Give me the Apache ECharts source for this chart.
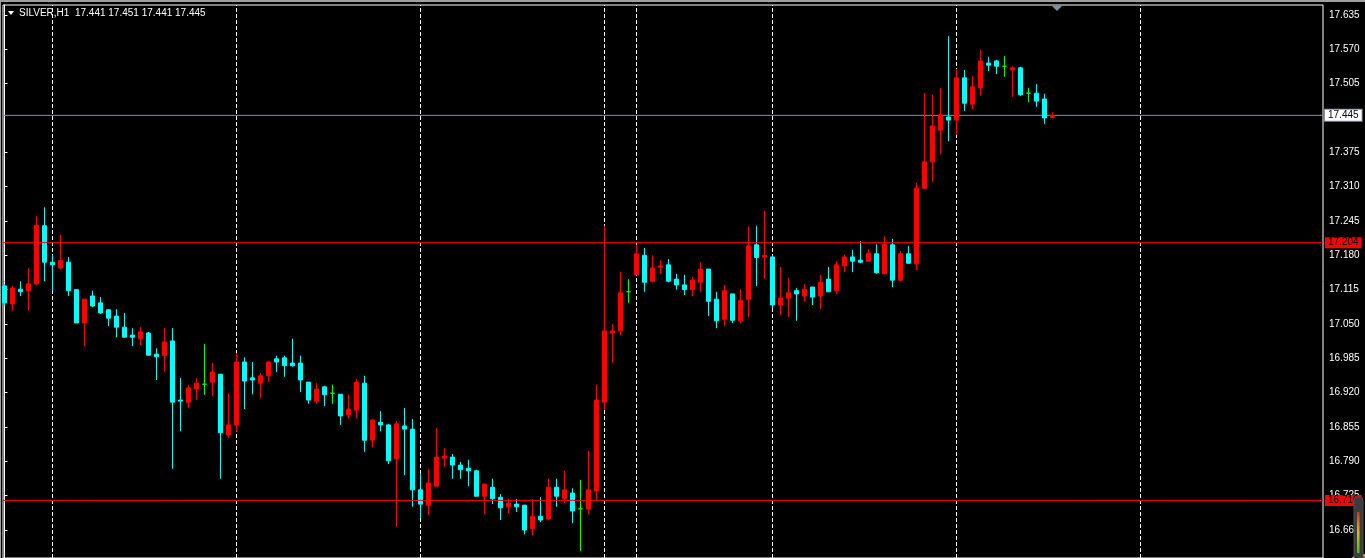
<!DOCTYPE html>
<html>
<head>
<meta charset="utf-8">
<script src="https://cdn.jsdelivr.net/npm/echarts@6/dist/echarts.min.js"></script>
<style>
html,body{margin:0;padding:0;background:#000;}
#chart{width:1365px;height:558px;}
</style>
</head>
<body>
<div id="chart"></div>
<script>
const symbolTitle = 'SILVER,H1  17.441 17.451 17.441 17.445';
const opens = [17.122,17.088,17.116,17.113,17.126,17.236,17.167,17.156,17.167,17.115,17.052,17.103,17.090,17.077,17.065,17.044,17.029,17.022,17.033,16.993,
16.990,17.018,16.906,16.902,16.927,16.936,16.940,16.955,16.840,16.859,16.978,16.948,16.938,16.952,16.984,16.986,16.976,16.976,16.940,16.904,
16.931,16.919,16.917,16.878,16.887,16.938,16.830,16.864,16.859,16.795,16.857,16.851,16.736,16.707,16.743,16.796,16.798,16.783,16.777,16.772,
16.724,16.741,16.722,16.704,16.709,16.707,16.663,16.686,16.681,16.741,16.720,16.730,16.700,16.700,16.734,16.902,17.033,17.037,17.111,17.143,
17.180,17.131,17.158,17.162,17.135,17.124,17.115,17.129,17.154,17.097,17.059,17.107,17.056,17.097,17.200,17.177,17.177,17.086,17.099,17.113,
17.103,17.120,17.103,17.135,17.113,17.160,17.177,17.171,17.169,17.183,17.145,17.200,17.133,17.183,17.164,17.307,17.357,17.417,17.442,17.436,
17.516,17.466,17.497,17.544,17.548,17.538,17.531,17.535,17.487,17.487,17.476,17.441];
const closes = [17.090,17.118,17.111,17.126,17.237,17.167,17.162,17.170,17.113,17.052,17.097,17.084,17.071,17.061,17.044,17.025,17.025,17.035,16.991,16.988,
17.016,16.902,16.904,16.929,16.938,16.936,16.959,16.844,16.859,16.978,16.942,16.944,16.952,16.978,16.978,16.971,16.971,16.944,16.906,16.927,
16.916,16.919,16.876,16.889,16.940,16.830,16.868,16.859,16.791,16.861,16.851,16.736,16.709,16.749,16.798,16.800,16.783,16.774,16.772,16.724,
16.747,16.719,16.702,16.711,16.704,16.660,16.686,16.679,16.741,16.724,16.736,16.696,16.700,16.736,16.906,17.037,17.037,17.109,17.111,17.183,
17.129,17.156,17.160,17.131,17.124,17.115,17.133,17.154,17.093,17.056,17.113,17.057,17.095,17.198,17.176,17.180,17.086,17.099,17.109,17.107,
17.116,17.101,17.129,17.111,17.162,17.177,17.169,17.167,17.184,17.147,17.201,17.133,17.183,17.165,17.307,17.357,17.425,17.446,17.436,17.516,
17.468,17.499,17.548,17.540,17.538,17.538,17.535,17.484,17.487,17.472,17.440,17.445];
const lows = [17.085,17.075,17.103,17.075,17.124,17.131,17.113,17.154,17.103,17.052,17.008,17.082,17.069,17.046,17.025,17.025,17.008,17.010,16.990,16.944,
16.959,16.776,16.847,16.891,16.906,16.916,16.914,16.757,16.834,16.846,16.889,16.917,16.910,16.940,16.959,16.950,16.969,16.921,16.899,16.899,
16.895,16.899,16.859,16.870,16.872,16.808,16.817,16.847,16.785,16.666,16.764,16.704,16.683,16.688,16.743,16.779,16.757,16.757,16.743,16.724,
16.690,16.709,16.679,16.692,16.694,16.652,16.650,16.675,16.679,16.704,16.711,16.673,16.620,16.690,16.717,16.887,16.976,17.028,17.090,17.143,
17.111,17.129,17.145,17.129,17.115,17.105,17.103,17.111,17.065,17.042,17.046,17.052,17.052,17.063,17.122,17.135,17.080,17.067,17.063,17.056,
17.092,17.086,17.078,17.111,17.107,17.148,17.148,17.165,17.169,17.145,17.145,17.120,17.131,17.164,17.152,17.306,17.319,17.372,17.396,17.408,
17.453,17.457,17.482,17.529,17.523,17.518,17.480,17.482,17.470,17.461,17.429,17.441];
const highs = [17.126,17.122,17.131,17.156,17.254,17.271,17.181,17.219,17.177,17.115,17.097,17.113,17.101,17.078,17.078,17.071,17.042,17.044,17.035,17.004,
17.042,17.042,16.948,16.935,16.948,17.012,16.976,16.955,16.919,16.995,16.987,16.978,16.957,16.980,16.990,16.990,17.022,16.990,16.940,16.938,
16.933,16.935,16.917,16.917,16.946,16.952,16.870,16.885,16.861,16.866,16.891,16.870,16.768,16.776,16.853,16.815,16.804,16.789,16.793,16.774,
16.747,16.757,16.728,16.719,16.719,16.707,16.719,16.722,16.757,16.757,16.772,16.739,16.755,16.810,16.935,17.236,17.050,17.149,17.135,17.200,
17.194,17.180,17.171,17.173,17.145,17.143,17.139,17.167,17.154,17.111,17.124,17.107,17.116,17.235,17.236,17.264,17.180,17.158,17.137,17.118,
17.126,17.120,17.143,17.158,17.169,17.181,17.190,17.207,17.192,17.201,17.216,17.211,17.188,17.198,17.317,17.487,17.484,17.497,17.595,17.533,
17.531,17.520,17.569,17.556,17.550,17.557,17.538,17.537,17.497,17.504,17.486,17.451];
const separatorBars = [6, 29, 52, 75, 79, 96, 119, 142];
const yTickLabels = ['17.635','17.570','17.505','17.375','17.310','17.245','17.180','17.115','17.050','16.985','16.920','16.855','16.790','16.725','16.660'];
const bidPrice = 17.445;
const redLevels = [17.204, 16.716];

const X_MIN = -0.1875, X_MAX = 164.8125, Y_MIN = 16.607, Y_MAX = 17.6539;
const candleData = opens.map((o, i) => [i, o, closes[i], lows[i], highs[i]]);
const FONT = '"Liberation Sans", Arial, sans-serif';

function hLine(price, color, z, labelBg, labelBorder) {
  return {
    type: 'line', z: z, silent: true, symbol: 'none', animation: false, clip: false,
    data: [[X_MIN, price], [X_MAX, price]],
    lineStyle: {color: color, width: 1, type: 'solid'},
    endLabel: {show: true, distance: 2, formatter: price.toFixed(3), color: '#000000', backgroundColor: labelBg,
      borderColor: labelBorder, borderWidth: labelBorder ? 1 : 0, padding: [1, 3, 0, 3], fontFamily: FONT, fontSize: 10},
    emphasis: {disabled: true}
  };
}

const series = [];
separatorBars.forEach(b => series.push({
  type: 'line', z: 1, silent: true, symbol: 'none', animation: false,
  data: [[b, Y_MIN], [b, Y_MAX]],
  lineStyle: {color: '#ffffff', width: 1, type: [4, 2]},
  emphasis: {disabled: true}
}));
series.push(hLine(bidPrice, '#8a8f9a', 1, '#ffffff', '#8a8f9a'));
series.push({
  type: 'candlestick', z: 3, silent: true,
  encode: {x: 0, y: [1, 2, 3, 4]},
  data: candleData,
  barWidth: 4,
  itemStyle: {
    color: '#ff0000', color0: '#00ffff',
    borderColor: '#ff0000', borderColor0: '#00ffff',
    borderColorDoji: '#00ff00', borderWidth: 1
  }
});
redLevels.forEach(p => series.push(hLine(p, '#ff0000', 6, '#ff0000', null)));

const chart = echarts.init(document.getElementById('chart'), null, {renderer: 'canvas'});
chart.setOption({
  backgroundColor: '#000000',
  animation: false,
  grid: {left: 3, top: 5, width: 1320, height: 553, show: true, borderColor: '#ffffff', borderWidth: 1, backgroundColor: 'transparent', containLabel: false},
  xAxis: {type: 'value', min: X_MIN, max: X_MAX, show: false, splitLine: {show: false}},
  yAxis: {
    type: 'value', position: 'right', min: Y_MIN, max: Y_MAX, scale: true,
    axisLine: {show: true, lineStyle: {color: '#ffffff', width: 1}},
    axisTick: {show: true, length: 3, inside: false, lineStyle: {color: '#ffffff'}, customValues: yTickLabels.map(Number)},
    axisLabel: {show: true, color: '#ffffff', fontFamily: FONT, fontSize: 10, margin: 6, customValues: yTickLabels.map(Number), formatter: v => v.toFixed(3)},
    splitLine: {show: false}
  },
  series: series,
  graphic: [
    {type: 'rect', left: 0, top: 0, shape: {width: 1365, height: 2}, style: {fill: '#a0a0a0'}, z: 100},
    {type: 'rect', left: 0, top: 0, shape: {width: 1, height: 558}, style: {fill: '#a0a0a0'}, z: 100},
    {type: 'polygon', shape: {points: [[8, 11], [14, 11], [11, 15]]}, style: {fill: '#ffffff'}, z: 100},
    {type: 'text', left: 19, top: 8, style: {text: symbolTitle, fill: '#ffffff', font: '10px ' + FONT}, z: 100},
    {type: 'polygon', shape: {points: [[1052, 6], [1062, 6], [1057, 11]]}, style: {fill: '#8090a0'}, z: 100},
    {type: 'circle', shape: {cx: 1362, cy: 570, r: 15}, style: {fill: '#d07020', stroke: '#f0b070', lineWidth: 2}, z: 99},
    {type: 'rect', shape: {x: 1354, y: 497, width: 9, height: 66, r: 3}, style: {fill: '#3c3c3c', stroke: '#505050'}, z: 100},
    {type: 'rect', shape: {x: 1357, y: 512, width: 2.5, height: 41},
     style: {fill: new echarts.graphic.LinearGradient(0, 0, 0, 1, [{offset: 0, color: '#e03010'}, {offset: 0.5, color: '#e0c000'}, {offset: 1, color: '#30d000'}])}, z: 101}
  ]
});
</script>
</body>
</html>
